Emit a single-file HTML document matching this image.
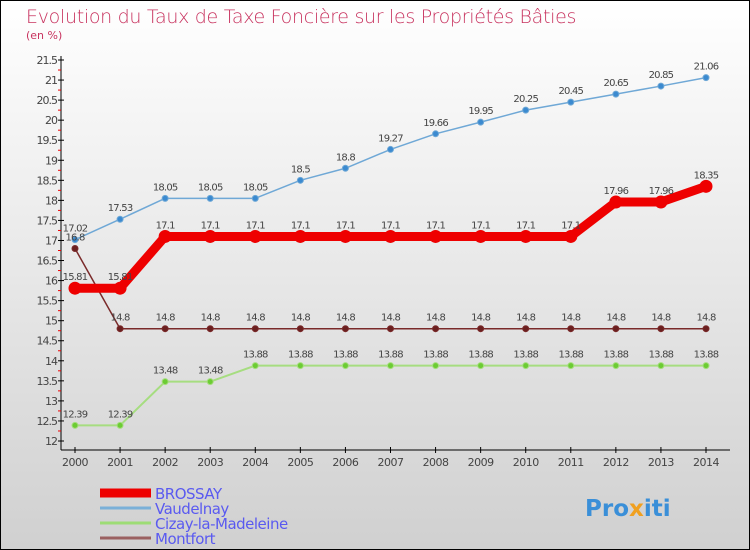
<!DOCTYPE html>
<html><head><meta charset="utf-8"><style>
body{margin:0}
#c{width:750px;height:550px;position:relative;overflow:hidden;font-family:"DejaVu Sans","Liberation Sans",sans-serif}
</style></head><body>
<div id="c">
<svg id="s" width="750" height="550" xmlns="http://www.w3.org/2000/svg">
<defs><linearGradient id="bg" x1="0" y1="0" x2="0" y2="1"><stop offset="0" stop-color="#ffffff"/><stop offset="1" stop-color="#d0d0d0"/></linearGradient></defs>
<rect x="0.5" y="0.5" width="749" height="549" fill="url(#bg)" stroke="#000"/>
<text x="26" y="23" font-size="19" fill="#c8335f" font-family="DejaVu Sans,sans-serif" font-weight="200" letter-spacing="-0.3">Evolution du Taux de Taxe Foncière sur les Propriétés Bâties</text>
<text x="26" y="39" font-size="11" fill="#c8335f">(en %)</text>
<g id="axes"></g><g id="series"></g><g id="legend"></g>
<text x="585" y="516" font-size="23" font-weight="bold" fill="#3a8fd8">Pro<tspan fill="#f0a020">x</tspan>iti</text>
</svg></div>
<script>
const years=["2000","2001","2002","2003","2004","2005","2006","2007","2008","2009","2010","2011","2012","2013","2014"];
const yTicks=[12,12.5,13,13.5,14,14.5,15,15.5,16,16.5,17,17.5,18,18.5,19,19.5,20,20.5,21,21.5];
const brossay=[15.81,15.81,17.1,17.1,17.1,17.1,17.1,17.1,17.1,17.1,17.1,17.1,17.96,17.96,18.35];
const vaudelnay=[17.02,17.53,18.05,18.05,18.05,18.5,18.8,19.27,19.66,19.95,20.25,20.45,20.65,20.85,21.06];
const cizay=[12.39,12.39,13.48,13.48,13.88,13.88,13.88,13.88,13.88,13.88,13.88,13.88,13.88,13.88,13.88];
const montfort=[16.8,14.8,14.8,14.8,14.8,14.8,14.8,14.8,14.8,14.8,14.8,14.8,14.8,14.8,14.8];
const seriesNames=["BROSSAY","Vaudelnay","Cizay-la-Madeleine","Montfort"];
const NS="http://www.w3.org/2000/svg";
const X=i=>75+i*(706-75)/14;
const Y=v=>441-(v-12)*(441-60)/9.5;
function mk(t,a,p){const e=document.createElementNS(NS,t);for(const k in a)e.setAttribute(k,a[k]);p.appendChild(e);return e;}
const ax=document.getElementById('axes');
let l=mk('line',{x1:61,y1:56,x2:61,y2:450,stroke:'#000'},ax);

l=mk('line',{x1:61,y1:450,x2:730,y2:450,stroke:'#000'},ax);

yTicks.forEach((v,i)=>{
 const y=Y(v);mk('line',{x1:58,y1:y,x2:64,y2:y,stroke:'#000'},ax);
 if(i<yTicks.length-1)mk('line',{x1:58,y1:Y(v+0.25),x2:61,y2:Y(v+0.25),stroke:'#e00'},ax);
 const t=mk('text',{x:57,y:y+4,'font-size':11,'text-anchor':'end',fill:'#444','letter-spacing':'-1'},ax);t.textContent=String(v);
 
});
years.forEach((yr,i)=>{
 mk('line',{x1:X(i),y1:447,x2:X(i),y2:453,stroke:'#000'},ax);
 const t=mk('text',{x:X(i),y:466,'font-size':11,'text-anchor':'middle',fill:'#444','letter-spacing':'-0.5'},ax);t.textContent=yr;
 
});
const sg=document.getElementById('series');
function draw(data,color,w,r,dot,name){
 const g=mk('g',{},sg);
 const p=mk('polyline',{points:data.map((v,i)=>X(i)+','+Y(v)).join(' '),fill:'none',stroke:color,'stroke-width':w,'stroke-linejoin':'round'},g);
 
 data.forEach((v,i)=>{
  const c=mk('circle',{cx:X(i),cy:Y(v),r:r,fill:dot,stroke:color,'stroke-width':1},g);
  
  const t=mk('text',{x:X(i),y:Y(v)-8,'font-size':10,'text-anchor':'middle',fill:'#444','letter-spacing':'-0.8'},g);t.textContent=String(v);
  
 });
}
draw(vaudelnay,'#6fa8d6',1.5,3,'#3b8ad0','vaudelnay');
draw(cizay,'#a6dd80',2,3,'#6ccc33','cizay');
draw(montfort,'#7a2a2a',1.5,3,'#6a1f1f','montfort');
draw(brossay,'#ee0000',9,6,'#ee0000','brossay');
const lg=document.getElementById('legend');
const lc=['#ee0000','#7ab0d8','#9ddc75','#9a6060'],lw=[9,3,3,3];
seriesNames.forEach((n,i)=>{
 const y=493+i*15;
 const ln=mk('line',{x1:100,y1:y,x2:151,y2:y,stroke:lc[i],'stroke-width':lw[i]},lg);
 
 const t=mk('text',{x:155,y:y+6,'font-size':15,fill:'#5a5af0','letter-spacing':'-0.5'},lg);t.textContent=n;
 
});
</script>
</body></html>
